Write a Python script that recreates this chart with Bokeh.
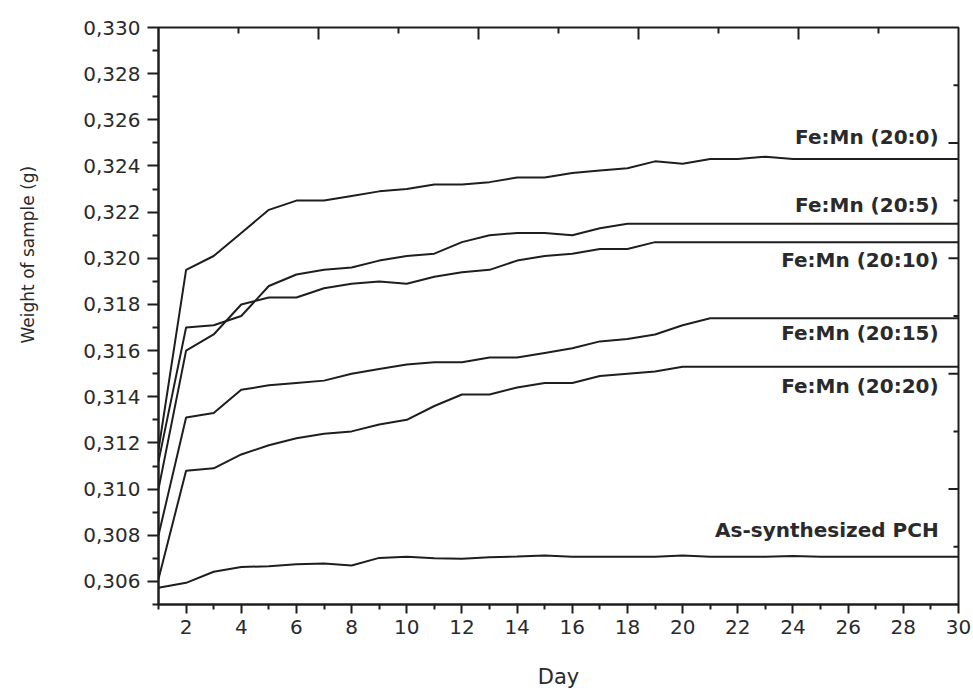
import math
from bokeh.plotting import figure
from bokeh.layouts import row
from bokeh.models import LinearAxis, Range1d, FixedTicker, Label, CustomJSTickFormatter
from bokeh.core.properties import value
from bokeh.embed import file_html
from bokeh.resources import INLINE

days = list(range(1, 31))

fe_20_0 = [0.3117, 0.3195, 0.3201, 0.3211, 0.3221, 0.3225, 0.3225, 0.3227, 0.3229, 0.3230,
           0.3232, 0.3232, 0.3233, 0.3235, 0.3235, 0.3237, 0.3238, 0.3239, 0.3242, 0.3241,
           0.3243, 0.3243, 0.3244, 0.3243, 0.3243, 0.3243, 0.3243, 0.3243, 0.3243, 0.3243]
fe_20_5 = [0.3112, 0.3170, 0.3171, 0.3175, 0.3188, 0.3193, 0.3195, 0.3196, 0.3199, 0.3201,
           0.3202, 0.3207, 0.3210, 0.3211, 0.3211, 0.3210, 0.3213, 0.3215, 0.3215, 0.3215,
           0.3215, 0.3215, 0.3215, 0.3215, 0.3215, 0.3215, 0.3215, 0.3215, 0.3215, 0.3215]
fe_20_10 = [0.3100, 0.3160, 0.3167, 0.3180, 0.3183, 0.3183, 0.3187, 0.3189, 0.3190, 0.3189,
            0.3192, 0.3194, 0.3195, 0.3199, 0.3201, 0.3202, 0.3204, 0.3204, 0.3207, 0.3207,
            0.3207, 0.3207, 0.3207, 0.3207, 0.3207, 0.3207, 0.3207, 0.3207, 0.3207, 0.3207]
fe_20_15 = [0.3080, 0.3131, 0.3133, 0.3143, 0.3145, 0.3146, 0.3147, 0.3150, 0.3152, 0.3154,
            0.3155, 0.3155, 0.3157, 0.3157, 0.3159, 0.3161, 0.3164, 0.3165, 0.3167, 0.3171,
            0.3174, 0.3174, 0.3174, 0.3174, 0.3174, 0.3174, 0.3174, 0.3174, 0.3174, 0.3174]
fe_20_20 = [0.3061, 0.3108, 0.3109, 0.3115, 0.3119, 0.3122, 0.3124, 0.3125, 0.3128, 0.3130,
            0.3136, 0.3141, 0.3141, 0.3144, 0.3146, 0.3146, 0.3149, 0.3150, 0.3151, 0.3153,
            0.3153, 0.3153, 0.3153, 0.3153, 0.3153, 0.3153, 0.3153, 0.3153, 0.3153, 0.3153]
pch = [0.30573, 0.30594, 0.30642, 0.30662, 0.30666, 0.30674, 0.30678, 0.30669, 0.30702, 0.30707,
       0.30700, 0.30698, 0.30705, 0.30708, 0.30712, 0.30707, 0.30707, 0.30707, 0.30707, 0.30712,
       0.30707, 0.30707, 0.30707, 0.30710, 0.30707, 0.30707, 0.30707, 0.30707, 0.30707, 0.30707]

series_names = ["Fe:Mn (20:0)", "Fe:Mn (20:5)", "Fe:Mn (20:10)", "Fe:Mn (20:15)",
                "Fe:Mn (20:20)", "As-synthesized PCH"]
series_values = [fe_20_0, fe_20_5, fe_20_10, fe_20_15, fe_20_20, pch]

y_major = [0.306, 0.308, 0.310, 0.312, 0.314, 0.316, 0.318, 0.320, 0.322, 0.324, 0.326, 0.328, 0.330]
y_minor = [0.305, 0.307, 0.309, 0.311, 0.313, 0.315, 0.317, 0.319, 0.321, 0.323, 0.325, 0.327, 0.329]
x_major = list(range(2, 31, 2))
x_minor = list(range(1, 31, 2))
# mirror ticks on the top and right frame edges (unlabelled)
top_major = [6.8, 12.6, 18.4, 24.2]
top_minor = [3.9, 9.7, 15.5, 21.3, 27.1]
right_major = [0.310, 0.315, 0.320, 0.325]
right_minor = [0.3075, 0.3125, 0.3175, 0.3225, 0.3275]

INK = "#1e1e1e"
TXT = "#2a2a2a"

# ---- narrow side panel holding the y-axis title ----
side = figure(width=60, height=691, output_backend="svg", toolbar_location=None,
              x_range=Range1d(0, 60), y_range=Range1d(691, 0),
              x_axis_type=None, y_axis_type=None,
              min_border=0, min_border_left=0, min_border_right=0,
              min_border_top=0, min_border_bottom=0)
side.outline_line_color = None
side.grid.visible = False
side.text(x=[27], y=[272], text=["Weight of sample (g)"], angle=math.pi / 2,
          text_align="center", text_baseline="middle",
          text_font=value("DejaVu Sans"), text_font_size="17px", text_color=TXT)

# ---- main chart ----
p = figure(width=913, height=691, output_backend="svg", toolbar_location=None,
           x_range=Range1d(1, 30), y_range=Range1d(0.305, 0.330),
           x_axis_type=None, y_axis_type=None,
           min_border_left=98, min_border_right=15, min_border_top=27, min_border_bottom=85)
p.outline_line_color = INK
p.outline_line_width = 2
p.grid.visible = False
p.background_fill_color = "white"
p.border_fill_color = "white"

# bottom axis
xb = LinearAxis(ticker=FixedTicker(ticks=x_major, minor_ticks=x_minor))
xb.axis_label = "Day"
xb.axis_label_text_font = "DejaVu Sans"
xb.axis_label_text_font_size = "21px"
xb.axis_label_text_font_style = "normal"
xb.axis_label_text_color = TXT
xb.axis_label_standoff = 28
xb.major_label_text_font = "DejaVu Sans"
xb.major_label_text_font_size = "20px"
xb.major_label_text_color = TXT
xb.major_label_standoff = 6
xb.major_tick_out = 9
xb.major_tick_in = 0
xb.minor_tick_out = 5
xb.minor_tick_in = 0
p.add_layout(xb, "below")

# left axis
yl = LinearAxis(ticker=FixedTicker(ticks=y_major, minor_ticks=y_minor),
                formatter=CustomJSTickFormatter(code="return tick.toFixed(3).replace('.', ',');"))
yl.major_label_text_font = "DejaVu Sans"
yl.major_label_text_font_size = "20px"
yl.major_label_text_color = TXT
yl.major_label_standoff = 7
yl.major_tick_out = 11
yl.major_tick_in = 0
yl.minor_tick_out = 6
yl.minor_tick_in = 0
p.add_layout(yl, "left")

for ax in (xb, yl):
    ax.axis_line_color = INK
    ax.axis_line_width = 2
    ax.major_tick_line_color = INK
    ax.major_tick_line_width = 2
    ax.minor_tick_line_color = INK
    ax.minor_tick_line_width = 2

# inward ticks on the top and right edges (lengths in screen pixels)
p.ray(x=top_major, y=[0.330] * len(top_major), length=12, length_units="screen",
      angle=-math.pi / 2, line_color=INK, line_width=2)
p.ray(x=top_minor, y=[0.330] * len(top_minor), length=6, length_units="screen",
      angle=-math.pi / 2, line_color=INK, line_width=2)
p.ray(x=[30] * len(right_major), y=right_major, length=10, length_units="screen",
      angle=math.pi, line_color=INK, line_width=2)
p.ray(x=[30] * len(right_minor), y=right_minor, length=5, length_units="screen",
      angle=math.pi, line_color=INK, line_width=2)

for vals in series_values:
    p.line(days, vals, line_color=INK, line_width=2)

# series labels (right aligned, positions in data units)
label_pos = [(29.28, 0.32526), (29.28, 0.32230), (29.28, 0.31992),
             (29.28, 0.31677), (29.28, 0.31445), (29.28, 0.30822)]
for name, (lx, ly) in zip(series_names, label_pos):
    p.add_layout(Label(x=lx, y=ly, text=name, text_align="right", text_baseline="middle",
                       text_font="DejaVu Sans", text_font_size="20px",
                       text_font_style="bold", text_color=TXT))

layout = row(side, p, spacing=0)
open("out.html", "w").write(file_html(layout, INLINE))
